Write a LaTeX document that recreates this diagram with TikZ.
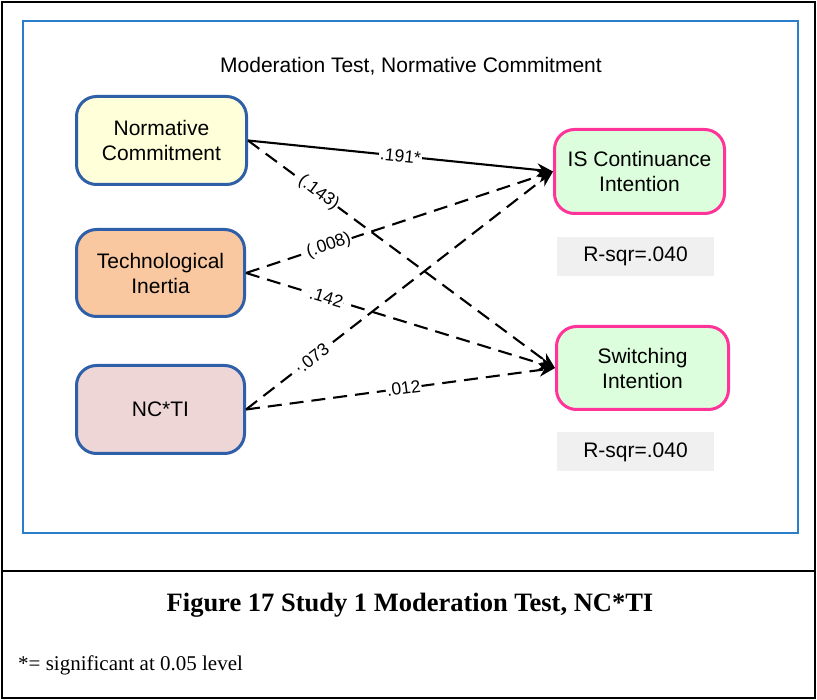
\documentclass[tikz,border=0pt]{standalone}
\usepackage{fontspec}
\setmainfont{Liberation Sans}
\newfontfamily\capfont{Liberation Serif}
\usetikzlibrary{arrows.meta}
\definecolor{boxblue}{HTML}{2E5FA8}
\definecolor{framblue}{HTML}{2A7DC8}
\definecolor{boxpink}{HTML}{FF3399}
\definecolor{ncfill}{HTML}{FFFFD9}
\definecolor{tifill}{HTML}{F9C8A0}
\definecolor{ntfill}{HTML}{EFD6D6}
\definecolor{outfill}{HTML}{DCFEDC}
\definecolor{rsqfill}{HTML}{F0F0F0}
\tikzset{
  inbox/.style={draw=boxblue, line width=3pt, rounded corners=20pt, align=center,
    font=\fontsize{21}{25}\selectfont, inner sep=2pt},
  outbox/.style={draw=boxpink, line width=3pt, rounded corners=20pt, align=center,
    fill=outfill, font=\fontsize{21}{25}\selectfont, inner sep=2pt},
  rsq/.style={fill=rsqfill, minimum width=157pt, minimum height=39pt,
    font=\fontsize{21}{25}\selectfont},
  path/.style={line width=2.1pt, -{Stealth[length=16pt,width=13pt]}},
  dpath/.style={path, dash pattern=on 14pt off 8pt},
  coef/.style={sloped, fill=white, inner sep=1pt, font=\fontsize{17.5}{20}\selectfont}
}
\begin{document}
\begin{tikzpicture}[x=1pt, y=-1pt]
\useasboundingbox (0,0) rectangle (817,700);
% page frame and caption divider
\draw[line width=2.5pt] (2,2) rectangle (815,698);
\draw[line width=2.5pt] (2,571) -- (815,571);
% diagram frame
\draw[framblue, line width=1.8pt] (23,21) rectangle (798,533);
\node[font=\fontsize{21}{25}\selectfont] (title) at (411,66) {Moderation Test, Normative Commitment};
% predictors
\node[inbox, fill=ncfill, minimum width=170pt, minimum height=88pt] (nc) at (161.5,140.5) {Normative\\Commitment};
\node[inbox, fill=tifill, minimum width=168pt, minimum height=87pt] (ti) at (160.5,273) {Technological\\Inertia};
\node[inbox, fill=ntfill, minimum width=168pt, minimum height=88pt] (ncti) at (160.5,409.5) {NC*TI};
% outcomes
\node[outbox, minimum width=170pt, minimum height=84pt] (isc) at (639.5,171.5) {IS Continuance\\Intention};
\node[outbox, minimum width=172pt, minimum height=83pt] (si) at (642.5,368) {Switching\\Intention};
\node[rsq] (r1) at (635.5,256.5) {R-sqr=.040};
\node[rsq] (r2) at (635.5,452) {R-sqr=.040};
% paths
\draw[path] (nc.east) -- node[coef, pos=0.5] {.191*} (isc.west);
\draw[dpath] (nc.east) -- node[coef, pos=0.23] {(.143)} (si.west);
\draw[dpath] (ti.east) -- node[coef, pos=0.27] {(.008)} (isc.west);
\draw[dpath] (ti.east) -- node[coef, pos=0.26] {.142} (si.west);
\draw[dpath] (ncti.east) -- node[coef, pos=0.22] {.073} (isc.west);
\draw[dpath] (ncti.east) -- node[coef, pos=0.51] {.012} (si.west);
% caption and note
\node[font=\capfont\bfseries\fontsize{26.5}{30}\selectfont] (cap) at (410,605) {Figure 17 Study 1 Moderation Test, NC*TI};
\node[font=\capfont\fontsize{21}{24}\selectfont, anchor=base west, inner sep=0pt] (note) at (18,670) {*= significant at 0.05 level};
\end{tikzpicture}
\end{document}
